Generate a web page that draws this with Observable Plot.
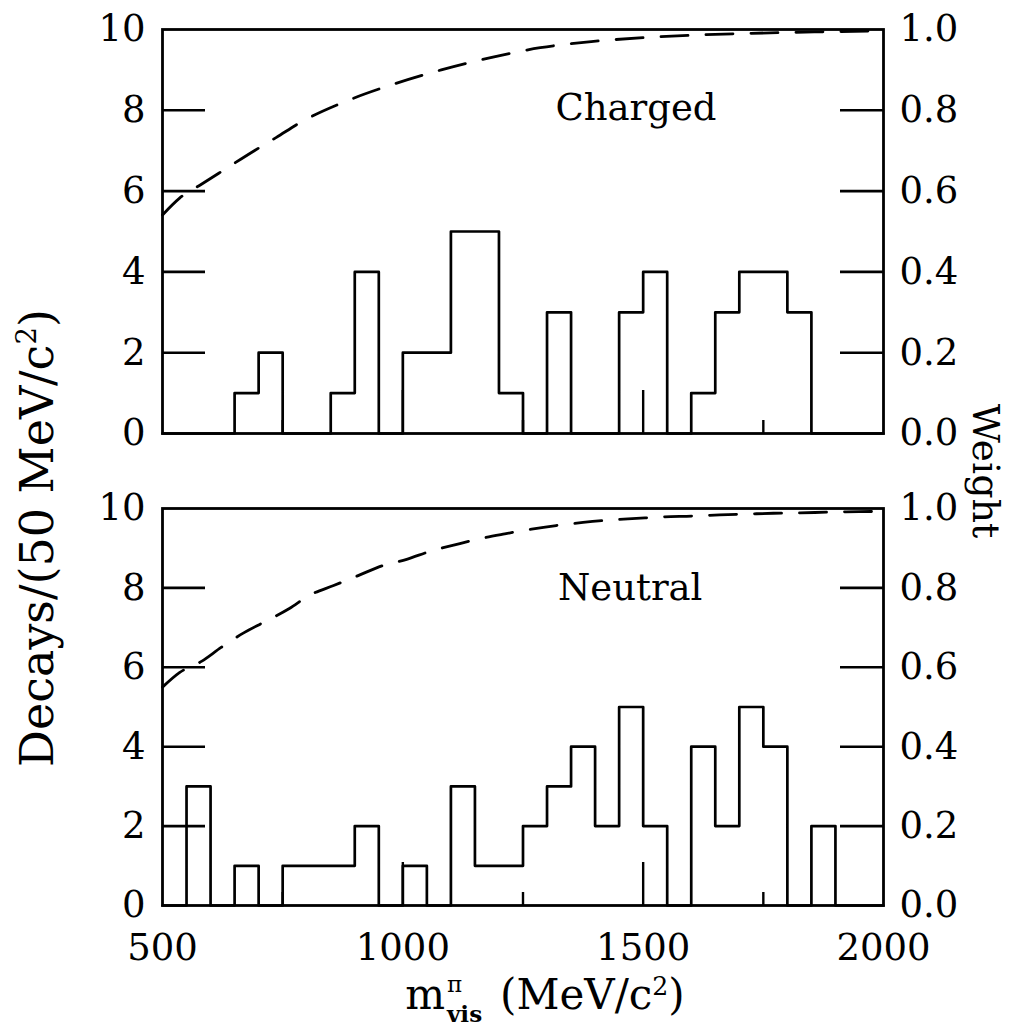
<!DOCTYPE html>
<html><head><meta charset="utf-8">
<script src="https://cdn.jsdelivr.net/npm/d3@7"></script>
<script src="https://cdn.jsdelivr.net/npm/@observablehq/plot@0.6"></script>
<style>
body{margin:0;background:#fff;}
#wrap{position:relative;width:1031px;height:1028px;background:#fff;overflow:hidden}
.panel{position:absolute;left:0}
.lbl{position:absolute;font-family:"DejaVu Serif",serif;color:#000;white-space:nowrap;line-height:1}
.scr{position:relative;display:inline-block;height:0;width:2.3em;margin-left:0.08em;font-size:0.55em;vertical-align:baseline}
.scr span{position:absolute;left:0;line-height:1}
</style></head><body><div id="wrap"></div>
<script>
// bin edges (MeV/c^2), 50 MeV bins
const binEdges = [500,550,600,650,700,750,800,850,900,950,1000,1050,1100,1150,1200,1250,1300,1350,1400,1450,1500,1550,1600,1650,1700,1750,1800,1850,1900,1950,2000];
const chargedCounts = [0,0,0,1,2,0,0,1,4,0,2,2,5,5,1,0,3,0,0,3,4,0,1,3,4,4,3,0,0,0];
const neutralCounts = [0,3,0,1,0,1,1,1,2,0,1,0,3,1,1,2,3,4,2,5,2,0,4,2,5,4,0,2,0,0];

// weight curves
const chargedWeightMass = [500,535,581,626,691,737,787,883,979,1080,1185,1286,1392,1503,1604,1705,1815,1911,2000];
const chargedWeight     = [0.541,0.582,0.617,0.651,0.700,0.733,0.770,0.823,0.864,0.900,0.931,0.955,0.970,0.980,0.986,0.990,0.993,0.995,0.997];
const neutralWeightMass = [500,536,581,622,668,713,764,805,856,907,958,1008,1059,1110,1161,1212,1268,1319,1375,1430,1486,1542,1603,1659,1715,1771,1827,1888,1949,2000];
const neutralWeight     = [0.550,0.587,0.615,0.650,0.686,0.715,0.748,0.781,0.806,0.831,0.856,0.872,0.893,0.909,0.924,0.936,0.948,0.957,0.965,0.971,0.975,0.979,0.981,0.984,0.986,0.988,0.989,0.991,0.992,0.993];

const yLabelTicks = [0,2,4,6,8,10];
const yInnerTicks = [2,4,6,8];
const xLabelTicks = [500,1000,1500,2000];
const xMajorTicks = [1000,1500];
const xMinorTicks = [750,1250,1750];
const panelNames = ["Charged","Neutral"];
const labelPos = [{x:1485,y:8.05},{x:1473,y:8.0}];

const W = 1031, ML = 162, MR = 148;
const plotW = W - ML - MR;
const FONT = "DejaVu Serif";
const TICKFONT = 37;

function panel(counts, wm, wv, name, pos, height, mt, mb, showX) {
  const plotH = height - mt - mb;
  const steps = binEdges.map((x, i) => ({x, y: i < counts.length ? counts[i] : 0}));
  const curve = wm.map((m, i) => ({m, w: wv[i] * 10}));
  const marks = [
    Plot.line(steps, {x: "x", y: "y", curve: "step-after", stroke: "black", strokeWidth: 2.7}),
    Plot.line(curve, {x: "m", y: "w", curve: "monotone-x", stroke: "black", strokeWidth: 2.8, strokeDasharray: "27,18"}),
    Plot.tickY(yInnerTicks, {y: d => d, insetRight: plotW - 43, stroke: "black", strokeWidth: 2.6}),
    Plot.tickY(yInnerTicks, {y: d => d, insetLeft: plotW - 43, stroke: "black", strokeWidth: 2.6}),
    Plot.tickX(xMajorTicks, {x: d => d, insetTop: plotH - 43, stroke: "black", strokeWidth: 2.4}),
    Plot.tickX(xMinorTicks, {x: d => d, insetTop: plotH - 13, stroke: "black", strokeWidth: 2.4}),
    Plot.axisY(yLabelTicks, {anchor: "left", tickSize: 0, tickPadding: 17, fontSize: TICKFONT, label: null}),
    Plot.axisY(yLabelTicks, {anchor: "right", tickSize: 0, tickPadding: 16, fontSize: TICKFONT, label: null, tickFormat: d => (d / 10).toFixed(1)}),
    Plot.text([name], {x: pos.x, y: pos.y, text: d => d, fontSize: 37, fontFamily: FONT, lineAnchor: "middle", fill: "black"}),
    Plot.frame({stroke: "black", strokeWidth: 2.8})
  ];
  if (showX) marks.push(Plot.axisX(xLabelTicks, {anchor: "bottom", tickSize: 0, tickPadding: 28, fontSize: TICKFONT, label: null, tickFormat: d => String(d)}));
  return Plot.plot({
    width: W, height,
    marginLeft: ML, marginRight: MR, marginTop: mt, marginBottom: mb,
    x: {domain: [500, 2000], axis: null},
    y: {domain: [0, 10], axis: null},
    style: {fontFamily: FONT, color: "black", background: "white", overflow: "visible"},
    marks
  });
}

const wrap = document.getElementById("wrap");
const p1 = panel(chargedCounts, chargedWeightMass, chargedWeight, panelNames[0], labelPos[0], 470, 29, 37, false);
p1.classList.add("panel"); p1.style.top = "0px";
const p2 = panel(neutralCounts, neutralWeightMass, neutralWeight, panelNames[1], labelPos[1], 558, 38, 123, true);
p2.classList.add("panel"); p2.style.top = "470px";
wrap.appendChild(p1); wrap.appendChild(p2);

function addLabel(html, cx, cy, rot, size) {
  const d = document.createElement("div");
  d.className = "lbl";
  d.innerHTML = html;
  d.style.fontSize = size + "px";
  d.style.left = cx + "px"; d.style.top = cy + "px";
  d.style.transform = `translate(-50%,-50%) rotate(${rot}deg)`;
  wrap.appendChild(d);
}
addLabel('Decays/(50 MeV/c<sup style="font-size:0.6em;vertical-align:0.6em;line-height:0">2</sup>)', 37, 538, -90, 46);
addLabel('Weight', 986, 471, 90, 38);
addLabel('m<span class="scr"><span style="top:-1.58em">&pi;</span><span style="top:-0.32em;font-weight:bold">vis</span></span>(MeV/c<sup style="font-size:0.6em;vertical-align:0.55em;line-height:0">2</sup>)', 545, 995, 0, 42);
</script></body></html>
